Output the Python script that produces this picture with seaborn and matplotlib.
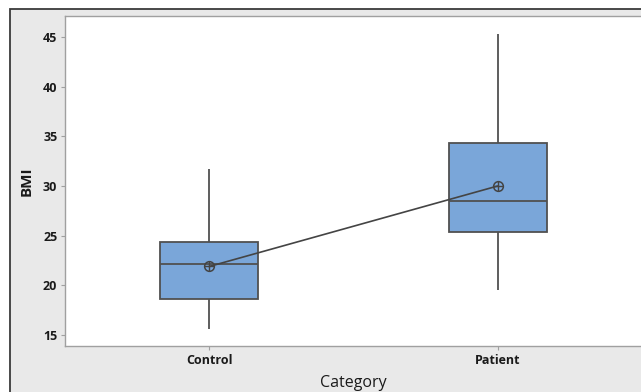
import numpy as np
import pandas as pd
import matplotlib
matplotlib.use("Agg")
import matplotlib.pyplot as plt
from matplotlib.patches import Rectangle
import seaborn as sns

# Group summaries: whisker ends, quartiles and median, plus group means
categories = ["Control", "Patient"]
bmi_min = [15.6, 19.5]
bmi_q1 = [18.6, 25.4]
bmi_median = [22.1, 28.5]
bmi_q3 = [24.4, 34.3]
bmi_max = [31.7, 45.3]
bmi_mean = [21.9, 30.0]
y_ticks = [15, 20, 25, 30, 35, 40, 45]

# Five-number table per category (linear percentiles of these points reproduce them)
rows = []
for i, c in enumerate(categories):
    for v in (bmi_min[i], bmi_q1[i], bmi_median[i], bmi_q3[i], bmi_max[i]):
        rows.append({"Category": c, "BMI": v})
box_df = pd.DataFrame(rows)
mean_df = pd.DataFrame({"Category": categories, "BMI": bmi_mean})

sns.set_theme(style="white")
plt.rcParams["font.family"] = ["Open Sans", "DejaVu Sans"]

W, H = 641, 392
fig = plt.figure(figsize=(W / 100, H / 100), dpi=100)
fig.patch.set_facecolor("white")
# Gray panel with dark top/left frame
fig.add_artist(Rectangle((10 / W, -0.2), 1.5, (1 - 9 / H) + 0.2,
                         transform=fig.transFigure, facecolor="#e9e9e9",
                         edgecolor="#3a3a3a", linewidth=1.3, zorder=0))

ax = fig.add_axes([65 / W, 46 / H, 577 / W, 330 / H])
ax.set_facecolor("white")

edge = "#505050"
sns.boxplot(data=box_df, x="Category", y="BMI", order=categories,
            whis=(0, 100), width=0.34, color="#7aa6d9", saturation=1,
            linecolor=edge, linewidth=1.3, showcaps=False, fliersize=0, ax=ax)

# Mean connect line with circle-plus markers
sns.pointplot(data=mean_df, x="Category", y="BMI", order=categories,
              color="#444444", markers="o", linestyles="-", errorbar=None,
              markersize=7, markerfacecolor="none", markeredgewidth=1.1,
              linewidth=1.2, ax=ax, zorder=5)
sns.pointplot(data=mean_df, x="Category", y="BMI", order=categories,
              color="#444444", markers="+", linestyles="none", errorbar=None,
              markersize=7, markeredgewidth=1.0, ax=ax, zorder=6)

ax.set_xlim(-0.5, 1.5)
ax.set_ylim(13.9, 47.1)
ax.set_yticks(y_ticks)
ax.set_yticklabels([str(t) for t in y_ticks])

for s in ax.spines.values():
    s.set_visible(True)
    s.set_color("#a0a0a0")
    s.set_linewidth(1.0)

ax.tick_params(axis="both", which="major", length=3, width=0.8,
               color="#a0a0a0", direction="out", left=True, bottom=True,
               labelsize=9, labelcolor="#1a1a1a", pad=2.5)
for lbl in ax.get_xticklabels() + ax.get_yticklabels():
    lbl.set_fontweight("bold")

ax.set_xlabel("Category", fontsize=11.5, color="#1a1a1a", labelpad=6)
ax.set_ylabel("BMI", fontsize=11, fontweight="bold", color="#1a1a1a", labelpad=7)

fig.savefig("out.png", dpi=100)
